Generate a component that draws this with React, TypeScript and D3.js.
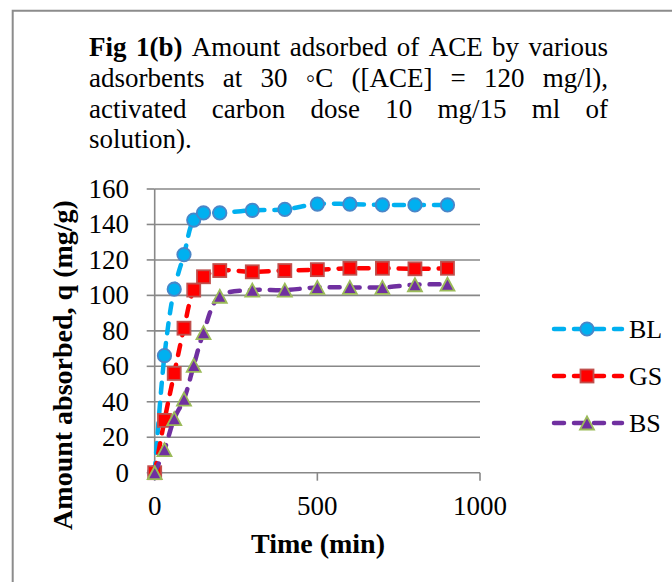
import React, { useEffect, useRef } from 'react';
import * as d3 from 'd3';

const times = [0, 30, 60, 90, 120, 150, 200, 300, 400, 500, 600, 700, 800, 900];
const blValues = [0, 66, 103.5, 123, 142.5, 146.5, 146.5, 148, 148.5, 151.5, 151.5, 151, 151, 151];
const gsValues = [0, 29.5, 56, 81.5, 103, 110.5, 114, 113.3, 114, 114.5, 115.3, 115.3, 115, 115.3];
const bsValues = [0, 13, 30.5, 41.5, 60.5, 79, 99.5, 103, 103, 104.5, 104.5, 104.5, 106, 106.3];
const seriesNames = ['BL', 'GS', 'BS'];
const yTicks = [0, 20, 40, 60, 80, 100, 120, 140, 160];
const xTicks = [0, 500, 1000];
const xTitle = 'Time (min)';
const yTitle = 'Amount absorbed, q (mg/g)';
const titleLine1 = ['Fig', '1(b)', 'Amount', 'adsorbed', 'of', 'ACE', 'by', 'various'];
const titleLine2 = ['adsorbents', 'at', '30', '\u25E6C', '([ACE]', '=', '120', 'mg/l),'];
const titleLine3 = ['activated', 'carbon', 'dose', '10', 'mg/15', 'ml', 'of'];
const titleLine4 = ['solution).'];
const boldTitleWords = ['Fig', '1(b)'];

export default function App() {
  const ref = useRef<SVGSVGElement>(null);

  useEffect(() => {
    const svg = d3.select(ref.current);
    svg.selectAll('*').remove();
    const W = 672;
    const H = 582;
    const font = "'Liberation Serif', 'Times New Roman', serif";

    // outer frame (only top and left edges visible)
    svg.append('path')
      .attr('d', `M12.7,${H + 10} V10.7 H${W + 10}`)
      .attr('fill', 'none')
      .attr('stroke', '#8c8c8c')
      .attr('stroke-width', 2);

    // justified title
    const tLeft = 89;
    const tRight = 608;
    const baselines = [56, 87, 118, 148];
    const lines = [titleLine1, titleLine2, titleLine3, titleLine4];
    lines.forEach((words, i) => {
      const g = svg.append('g');
      const nodes = words.map((w) =>
        g.append('text')
          .attr('y', baselines[i])
          .attr('font-family', font)
          .attr('font-size', 27)
          .attr('font-weight', boldTitleWords.includes(w) && i === 0 ? 'bold' : 'normal')
          .attr('fill', '#000')
          .text(w)
      );
      const widths = nodes.map((n) => (n.node() as SVGTextElement).getComputedTextLength());
      const total = d3.sum(widths);
      const justify = i < lines.length - 1 && nodes.length > 1;
      const gap = justify ? (tRight - tLeft - total) / (nodes.length - 1) : 6.5;
      let x = tLeft;
      nodes.forEach((n, j) => {
        n.attr('x', x);
        x += widths[j] + gap;
      });
    });

    // scales
    const x = d3.scaleLinear().domain([0, 1000]).range([154.7, 480]);
    const y = d3.scaleLinear().domain([0, 160]).range([472.7, 189]);
    const gridColor = '#888888';

    // gridlines
    svg.append('g').selectAll('line').data(yTicks).join('line')
      .attr('x1', x(0)).attr('x2', x(1000))
      .attr('y1', (d) => y(d)).attr('y2', (d) => y(d))
      .attr('stroke', gridColor).attr('stroke-width', 1.6);

    // y axis line + ticks
    svg.append('line')
      .attr('x1', x(0)).attr('x2', x(0)).attr('y1', y(0)).attr('y2', y(160))
      .attr('stroke', gridColor).attr('stroke-width', 1.6);
    svg.append('g').selectAll('line').data(yTicks).join('line')
      .attr('x1', x(0) - 8).attr('x2', x(0))
      .attr('y1', (d) => y(d)).attr('y2', (d) => y(d))
      .attr('stroke', gridColor).attr('stroke-width', 1.6);
    // x ticks
    svg.append('g').selectAll('line').data(xTicks).join('line')
      .attr('x1', (d) => x(d)).attr('x2', (d) => x(d))
      .attr('y1', y(0)).attr('y2', y(0) + 8)
      .attr('stroke', gridColor).attr('stroke-width', 1.6);

    // tick labels
    svg.append('g').selectAll('text').data(yTicks).join('text')
      .attr('x', 129).attr('y', (d) => y(d) + 9)
      .attr('text-anchor', 'end')
      .attr('font-family', font).attr('font-size', 27)
      .text((d) => String(d));
    svg.append('g').selectAll('text').data(xTicks).join('text')
      .attr('x', (d) => x(d)).attr('y', 515)
      .attr('text-anchor', 'middle')
      .attr('font-family', font).attr('font-size', 27)
      .text((d) => String(d));

    // axis titles
    svg.append('text')
      .attr('x', 318).attr('y', 553)
      .attr('text-anchor', 'middle')
      .attr('font-family', font).attr('font-size', 28).attr('font-weight', 'bold')
      .text(xTitle);
    svg.append('text')
      .attr('transform', 'translate(72,365) rotate(-90)')
      .attr('text-anchor', 'middle')
      .attr('font-family', font).attr('font-size', 28).attr('font-weight', 'bold')
      .text(yTitle);

    const series = [
      { name: seriesNames[0], values: blValues, line: '#00B0F0', fill: '#00B0F0', stroke: '#4A86C8', shape: 'circle' },
      { name: seriesNames[1], values: gsValues, line: '#FF0000', fill: '#FF0000', stroke: '#C0504D', shape: 'square' },
      { name: seriesNames[2], values: bsValues, line: '#7030A0', fill: '#7030A0', stroke: '#9BBB59', shape: 'triangle' },
    ];

    const drawMarker = (g: any, shape: string, cx: number, cy: number, fill: string, stroke: string) => {
      if (shape === 'circle') {
        g.append('circle').attr('cx', cx).attr('cy', cy).attr('r', 6.7)
          .attr('fill', fill).attr('stroke', stroke).attr('stroke-width', 1.8);
      } else if (shape === 'square') {
        g.append('rect').attr('x', cx - 6.5).attr('y', cy - 6.5).attr('width', 13).attr('height', 13)
          .attr('fill', fill).attr('stroke', stroke).attr('stroke-width', 1.8);
      } else {
        const h = 13;
        const w = 14;
        g.append('path')
          .attr('d', `M${cx},${cy - h / 2} L${cx + w / 2},${cy + h / 2} L${cx - w / 2},${cy + h / 2} Z`)
          .attr('fill', fill).attr('stroke', stroke).attr('stroke-width', 1.8)
          .attr('stroke-linejoin', 'miter');
      }
    };

    const lineGen = d3.line<number>()
      .x((_, i) => x(times[i]))
      .y((d) => y(d))
      .curve(d3.curveCatmullRom.alpha(0.5));

    series.forEach((s) => {
      const g = svg.append('g');
      g.append('path')
        .attr('d', lineGen(s.values))
        .attr('fill', 'none')
        .attr('stroke', s.line)
        .attr('stroke-width', 4.5)
        .attr('stroke-dasharray', '10 10')
        .attr('stroke-linecap', 'round');
      s.values.forEach((v, i) => drawMarker(g, s.shape, x(times[i]), y(v), s.fill, s.stroke));
    });

    // legend
    const legendY = [329, 376, 423];
    series.forEach((s, i) => {
      const g = svg.append('g');
      g.append('line')
        .attr('x1', 554).attr('x2', 622)
        .attr('y1', legendY[i]).attr('y2', legendY[i])
        .attr('stroke', s.line).attr('stroke-width', 4.5)
        .attr('stroke-dasharray', '10 10').attr('stroke-linecap', 'round');
      drawMarker(g, s.shape, 587, legendY[i], s.fill, s.stroke);
      g.append('text')
        .attr('x', 629).attr('y', legendY[i] + 9)
        .attr('font-family', font).attr('font-size', 26)
        .text(s.name);
    });
  }, []);

  return (
    <svg
      ref={ref}
      width={672}
      height={582}
      style={{ position: 'absolute', left: 0, top: 0, background: '#fff' }}
    />
  );
}
